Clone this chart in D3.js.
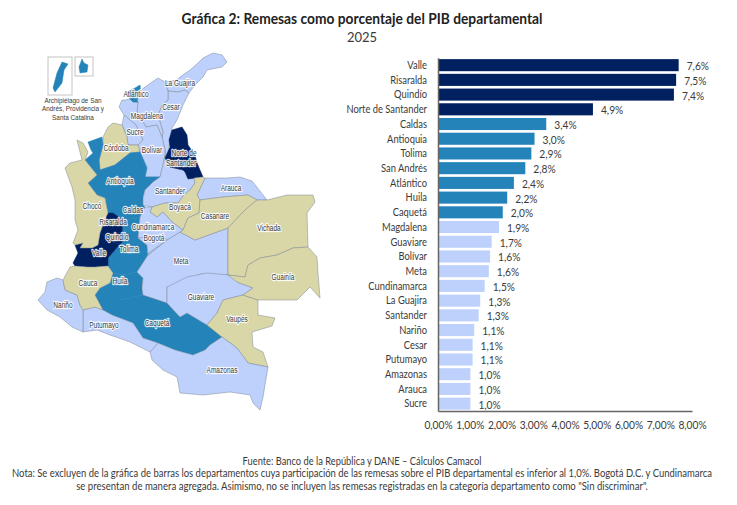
<!DOCTYPE html>
<html>
<head>
<meta charset="utf-8">
<script src="https://cdn.jsdelivr.net/npm/d3@7"></script>
<style>
  html, body { margin: 0; padding: 0; background: #fff; }
  text { font-family: Lato, sans-serif; fill: #3a3a3a; }
</style>
</head>
<body>
<div id="visualization"></div>
<script>
  let departments = ['Valle', 'Risaralda', 'Quindío', 'Norte de Santander', 'Caldas', 'Antioquia', 'Tolima', 'San Andrés', 'Atlántico', 'Huila', 'Caquetá', 'Magdalena', 'Guaviare', 'Bolívar', 'Meta', 'Cundinamarca', 'La Guajira', 'Santander', 'Nariño', 'Cesar', 'Putumayo', 'Amazonas', 'Arauca', 'Sucre']
  let remesas = [7.58, 7.5, 7.43, 4.88, 3.41, 3.04, 2.94, 2.75, 2.39, 2.18, 2.04, 1.92, 1.69, 1.64, 1.6, 1.47, 1.33, 1.28, 1.14, 1.09, 1.09, 1.02, 1.02, 1.02]
  let xTicks = [0, 1, 2, 3, 4, 5, 6, 7, 8]

  let footerLines = [
    'Fuente: Banco de la República y DANE – Cálculos Camacol',
    'Nota: Se excluyen de la gráfica de barras los departamentos cuya participación de las remesas sobre el PIB departamental es inferior al 1,0%. Bogotá D.C. y Cundinamarca',
    'se presentan de manera agregada. Asimismo, no se incluyen las remesas registradas en la categoría departamento como "Sin discriminar".'
  ]
  let footerWidths = [239, 701, 572]
  let insetCaption = ['Archipiélago de San', 'Andrés, Providencia y', 'Santa Catalina']

  // department outlines
  let outlines = {
    'La Guajira': [[165,82],[177,80],[180,77],[190,70],[198,63],[203,58],[213,53],[222,55],[227,62],[222,67],[207,70],[203,77],[195,85],[189,93],[185,90],[178,92],[168,91]],
    'Cesar': [[168,91],[178,92],[185,90],[189,93],[183,105],[177,120],[172,128],[170,140],[168,153],[165,155],[165,150],[162,137],[163,132],[158,115],[162,105],[168,100]],
    'Magdalena': [[141,90],[152,82],[158,78],[165,82],[168,91],[168,100],[162,105],[158,115],[163,132],[162,137],[157,125],[146,127],[137,112],[138,102],[137,100],[141,92]],
    'Bolívar': [[125,100],[130,99],[133,102],[138,102],[137,112],[146,127],[157,125],[162,137],[165,150],[165,155],[163,165],[160,177],[145,177],[147,168],[140,152],[138,145],[143,140],[136,125],[130,120],[124,115],[119,107],[122,100]],
    'Atlántico': [[135,88],[140,85],[141,92],[137,100],[138,102],[133,102],[130,99],[125,93]],
    'Sucre': [[122,125],[124,115],[130,120],[136,125],[143,140],[138,145],[128,145],[127,137]],
    'Córdoba': [[113,123],[122,125],[127,137],[128,145],[138,145],[140,152],[130,153],[115,165],[100,170],[99,160],[103,145],[103,137],[108,127]],
    'Antioquia': [[88,142],[102,137],[103,145],[99,160],[100,170],[115,165],[130,153],[140,152],[147,168],[145,177],[160,177],[153,182],[145,190],[143,198],[143,205],[125,205],[112,205],[105,198],[97,195],[88,183],[97,175],[85,160],[93,153],[91,150]],
    'Caldas': [[105,198],[112,205],[125,205],[143,205],[145,207],[140,217],[138,218],[123,220],[113,213],[108,213]],
    'Tolima': [[123,220],[138,218],[140,217],[138,238],[147,245],[148,255],[137,272],[123,275],[113,273],[108,266],[108,258],[120,244],[130,236],[122,232]],
    'Risaralda': [[106,217],[108,213],[113,213],[123,220],[122,232],[105,235],[100,233]],
    'Quindío': [[105,235],[122,232],[130,236],[120,244],[112,242]],
    'Valle': [[75,245],[83,243],[80,248],[92,248],[98,245],[100,233],[105,235],[112,242],[120,244],[108,258],[108,266],[95,267],[87,267],[75,266],[73,263],[78,253]],
    'Huila': [[113,273],[123,275],[137,272],[143,278],[142,288],[143,295],[120,300],[103,310],[95,295],[100,288],[110,283]],
    'Caquetá': [[95,295],[103,302],[120,300],[143,295],[155,298],[167,303],[180,317],[187,313],[207,325],[222,337],[210,345],[205,350],[193,355],[175,350],[158,343],[143,338],[133,323],[112,315],[103,310]],
    'Meta': [[180,232],[195,240],[228,228],[228,275],[200,274],[190,280],[167,287],[167,303],[143,295],[142,288],[143,278],[137,272],[148,255],[167,240]],
    'Guaviare': [[167,287],[187,277],[207,273],[230,275],[237,282],[253,288],[243,295],[223,300],[217,313],[207,325],[187,313],[180,317],[167,303]],
    'Vaupés': [[223,300],[243,295],[258,300],[258,315],[275,318],[272,326],[252,332],[253,347],[263,352],[268,367],[248,363],[237,348],[222,337],[207,325],[217,313]],
    'Amazonas': [[150,352],[158,343],[175,350],[193,355],[205,350],[210,345],[222,337],[237,348],[248,363],[268,367],[263,397],[260,410],[253,403],[250,395],[230,392],[203,395],[180,393],[177,377],[163,370],[152,360]],
    'Putumayo': [[83,332],[83,310],[95,307],[103,310],[112,315],[133,323],[143,338],[158,343],[150,352],[130,342],[110,335],[97,330]],
    'Nariño': [[38,300],[45,292],[47,282],[57,278],[63,280],[65,290],[77,295],[80,305],[83,310],[83,332],[72,327],[60,317],[47,310]],
    'Cauca': [[63,280],[70,267],[75,266],[87,267],[95,267],[108,266],[113,273],[110,283],[100,288],[95,295],[103,310],[95,307],[83,310],[80,305],[77,295],[65,290]],
    'Chocó': [[77,140],[83,143],[88,152],[85,160],[97,175],[88,183],[97,195],[105,198],[108,213],[106,217],[100,233],[98,245],[92,248],[80,248],[83,243],[75,245],[73,243],[78,230],[75,220],[75,200],[72,187],[65,168],[70,163],[82,160]],
    'Santander': [[160,177],[163,165],[165,155],[170,167],[183,170],[194,178],[195,183],[190,190],[184,195],[178,203],[165,203],[152,207],[143,205],[143,198],[145,190],[153,182]],
    'Norte de Santander': [[172,130],[182,127],[187,135],[188,145],[195,155],[197,163],[203,177],[188,179],[185,172],[183,170],[170,167],[165,158],[170,147],[169,140]],
    'Arauca': [[205,178],[227,178],[240,177],[252,181],[267,200],[257,200],[248,195],[223,197],[200,200],[197,195]],
    'Boyacá': [[203,177],[205,178],[197,195],[200,200],[199,213],[188,218],[183,230],[172,222],[163,212],[157,217],[150,212],[152,207],[165,203],[178,203],[184,195],[190,190],[195,183],[194,178]],
    'Casanare': [[200,200],[223,197],[248,195],[257,200],[245,210],[228,228],[195,240],[180,232],[183,230],[188,218],[199,213]],
    'Vichada': [[257,200],[267,200],[287,195],[313,195],[315,202],[307,213],[308,247],[293,248],[277,255],[260,258],[248,265],[245,277],[228,275],[228,228],[245,210]],
    'Guainía': [[228,275],[245,277],[248,265],[260,258],[277,255],[293,248],[308,247],[317,257],[318,273],[320,298],[310,287],[297,300],[258,300],[243,295],[253,288],[237,282]],
    'Cundinamarca': [[145,207],[152,207],[150,212],[157,217],[163,212],[172,222],[183,230],[180,232],[167,240],[148,255],[147,245],[138,238],[140,217]],
    'Bogotá': [[138,238],[150,237],[162,236],[167,240],[150,252],[148,255],[147,245]],
    'San Andrés': [[62,62],[68,64],[64,70],[62,83],[55,92],[53,88],[57,73]],
    'Providencia': [[82,59],[84,63],[88,65],[87,72],[80,73],[79,67]]
  }

  // where each name sits on the map: [name, x, y]
  let mapLabels = [
    ['La Guajira',180,83],['Atlántico',136,94],['Cesar',171,107],['Magdalena',147,116],['Sucre',135,132],['Córdoba',116,148],['Bolívar',152,150],
    ['Norte de',184,153],['Santander',181,163],['Antioquia',120,181],['Santander',170,191],['Arauca',231,188],['Boyacá',180,207],['Chocó',92,206],
    ['Caldas',133,210],['Casanare',215,216],['Risaralda',113,222],['Cundinamarca',153,227],['Vichada',269,228],['Quindío',117,237],['Bogotá',154,238],
    ['Tolima',129,249],['Valle',99,253],['Meta',181,261],['Huila',120,281],['Cauca',88,283],['Guainía',283,277],['Guaviare',201,297],['Nariño',63,305],
    ['Vaupés',237,319],['Caquetá',157,323],['Putumayo',104,325],['Amazonas',222,370]
  ]

  let width = 737
  let height = 505
  let navy = '#002060'
  let mid = '#2483b9'
  let light = '#bdd1fc'
  let khaki = '#d9d7a8'

  let tierColor = (value) => {
    if (value >= 4) return navy
    if (value >= 2) return mid
    if (value >= 1) return light
    return khaki
  }

  let valueOf = (name) => {
    if (name === 'Providencia') name = 'San Andrés'
    if (name === 'Bogotá') name = 'Cundinamarca'
    let index = departments.indexOf(name)
    return index < 0 ? 0 : remesas[index]
  }

  // the reference face is condensed and none of the installed ones are
  let squeeze = (selection, factor) => {
    selection.each(function() {
      d3.select(this)
        .attr('textLength', this.getComputedTextLength() * factor)
        .attr('lengthAdjust', 'spacingAndGlyphs')
    })
  }

  let svg = d3.select('#visualization')
              .append('svg')
                .attr('width', width)
                .attr('height', height)

  svg.append('text')
      .text('Gráfica 2: Remesas como porcentaje del PIB departamental')
      .attr('x', 362).attr('y', 24)
      .attr('text-anchor', 'middle')
      .attr('textLength', 361)
      .attr('lengthAdjust', 'spacingAndGlyphs')
      .style('font-size', '16px')
      .style('font-weight', 'bold')
      .style('fill', '#222')

  svg.append('text')
      .text('2025')
      .attr('x', 362).attr('y', 42)
      .attr('text-anchor', 'middle')
      .style('font-size', '13px')

  // map
  let features = Object.keys(outlines).map((name) => {
    return {
      type: 'Feature',
      properties: { name: name },
      geometry: { type: 'Polygon', coordinates: [outlines[name].concat([outlines[name][0]])] }
    }
  })

  let mapPath = d3.geoPath(d3.geoIdentity())

  let insetBoxes = [{ x: 48, y: 57, w: 24, h: 38 }, { x: 75, y: 57, w: 18, h: 19 }]
  svg.selectAll('rect.inset')
      .data(insetBoxes)
      .enter()
      .append('rect')
        .attr('class', 'inset')
        .attr('x', (d) => d.x).attr('y', (d) => d.y)
        .attr('width', (d) => d.w).attr('height', (d) => d.h)
        .attr('fill', '#fff')
        .attr('stroke', '#c4c4c4')
        .attr('stroke-width', 1)

  svg.selectAll('path.department')
      .data(features)
      .enter()
      .append('path')
        .attr('class', 'department')
        .attr('d', mapPath)
        .attr('fill', (d) => tierColor(valueOf(d.properties.name)))
        .attr('stroke', (d) => {
          let tier = tierColor(valueOf(d.properties.name))
          if (tier === mid || tier === navy) return tier
          return '#7d8794'
        })
        .attr('stroke-width', 0.5)
        .attr('stroke-linejoin', 'round')

  svg.selectAll('text.caption')
      .data(insetCaption)
      .enter()
      .append('text')
        .attr('class', 'caption')
        .text((d) => d)
        .attr('x', 73)
        .attr('y', (d, i) => 103 + i * 8.4)
        .attr('text-anchor', 'middle')
        .style('font-family', '"Liberation Sans", sans-serif')
        .style('font-size', '7.5px')
        .call(squeeze, 0.85)

  svg.selectAll('text.map-label')
      .data(mapLabels)
      .enter()
      .append('text')
        .attr('class', 'map-label')
        .text((d) => d[0])
        .attr('x', (d) => d[1])
        .attr('y', (d) => d[2] + 3)
        .attr('text-anchor', 'middle')
        .attr('stroke', '#fff')
        .attr('stroke-opacity', 0.85)
        .attr('stroke-width', 2.4)
        .attr('stroke-linejoin', 'round')
        .style('paint-order', 'stroke')
        .style('font-family', '"Liberation Sans", sans-serif')
        .style('font-size', '8.5px')
        .call(squeeze, 0.77)

  // bars
  let xScale = d3.scaleLinear().domain([0, 8]).range([438, 692])
  let yScale = d3.scaleBand().domain(departments).range([57.8, 411]).paddingInner(0.18).paddingOuter(0.09)

  svg.selectAll('rect.bar')
      .data(departments)
      .enter()
      .append('rect')
        .attr('class', 'bar')
        .attr('x', xScale(0))
        .attr('y', (d) => yScale(d))
        .attr('width', (d, i) => xScale(remesas[i]) - xScale(0))
        .attr('height', yScale.bandwidth())
        .attr('fill', (d, i) => tierColor(remesas[i]))

  svg.selectAll('text.value')
      .data(departments)
      .enter()
      .append('text')
        .attr('class', 'value')
        .text((d, i) => remesas[i].toFixed(1).replace('.', ',') + '%')
        .attr('x', (d, i) => xScale(remesas[i]) + 8)
        .attr('y', (d) => yScale(d) + yScale.bandwidth() / 2 + 5)
        .style('font-size', '12px')
        .call(squeeze, 0.85)

  let yAxis = d3.axisLeft(yScale).tickSize(0).tickPadding(11)
  let yGroup = svg.append('g').attr('transform', 'translate(438,0)').call(yAxis)
  yGroup.select('.domain').attr('stroke', '#666').attr('stroke-width', 1.5)
  yGroup.selectAll('text')
      .style('font-family', 'Lato, sans-serif')
      .style('font-size', '12px')
      .call(squeeze, 0.78)

  let xAxis = d3.axisBottom(xScale).tickValues(xTicks).tickSize(0).tickPadding(9)
                .tickFormat((d) => d.toFixed(2).replace('.', ',') + '%')
  let xGroup = svg.append('g').attr('transform', 'translate(0,411)').call(xAxis)
  xGroup.select('.domain').attr('stroke', '#666').attr('stroke-width', 1.5)
  xGroup.selectAll('text')
      .style('font-family', 'Lato, sans-serif')
      .style('font-size', '12px')
      .call(squeeze, 0.85)

  // footer, narrowed with a transform because the long line is wider than the page otherwise
  svg.selectAll('text.footer')
      .data(footerLines)
      .enter()
      .append('text')
        .attr('class', 'footer')
        .text((d) => d)
        .attr('text-anchor', 'middle')
        .style('font-size', '11px')
        .attr('transform', function(d, i) {
          let k = footerWidths[i] / this.getComputedTextLength()
          return 'translate(362,' + (465 + i * 12.3) + ') scale(' + k + ',1)'
        })
</script>
</body>
</html>
